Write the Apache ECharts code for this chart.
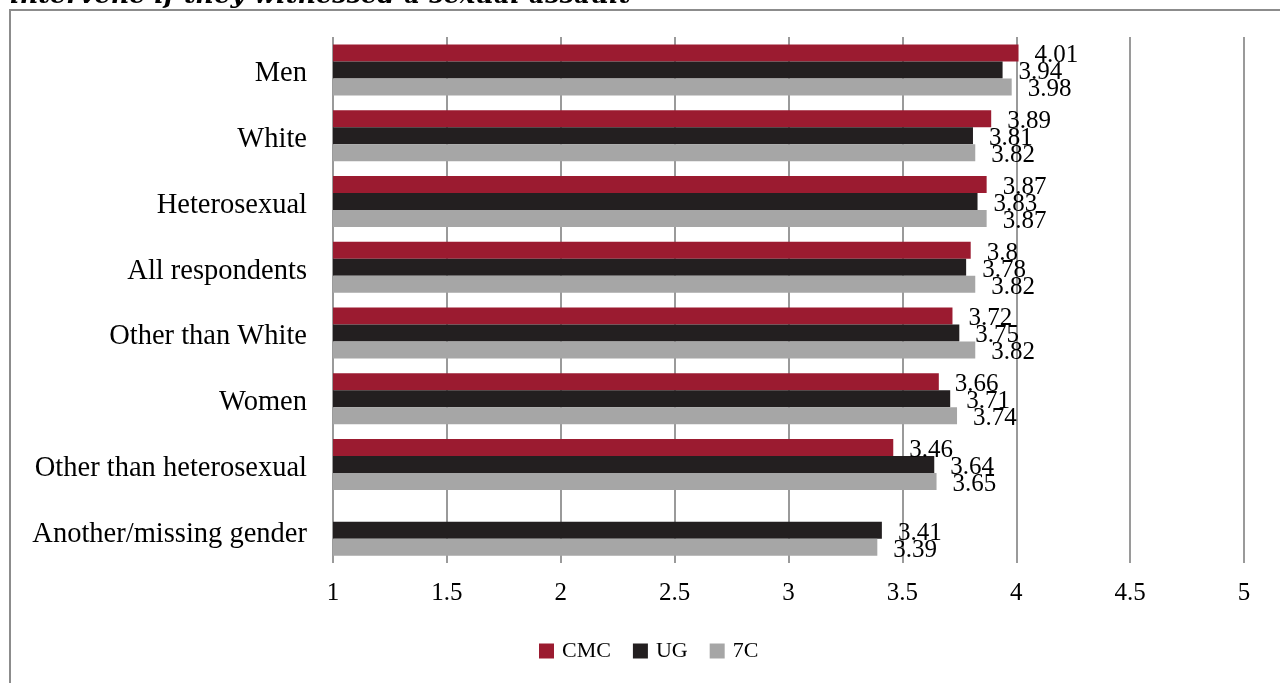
<!DOCTYPE html>
<html>
<head>
<meta charset="utf-8">
<script src="https://cdn.jsdelivr.net/npm/echarts@6/dist/echarts.min.js"></script>
<style>
  html, body { margin: 0; padding: 0; background: #fff; }
  #chart { width: 1280px; height: 683px; }
</style>
</head>
<body>
<div id="chart"></div>
<script>
// Mean likelihood of intervening, by respondent group
const categories = [
  'Men', 'White', 'Heterosexual', 'All respondents',
  'Other than White', 'Women', 'Other than heterosexual', 'Another/missing gender'
];
const cmcValues = [4.01, 3.89, 3.87, 3.8, 3.72, 3.66, 3.46, null];
const ugValues  = [3.94, 3.81, 3.83, 3.78, 3.75, 3.71, 3.64, 3.41];
const sevenCValues = [3.98, 3.82, 3.87, 3.82, 3.82, 3.74, 3.65, 3.39];
const xTicks = [1, 1.5, 2, 2.5, 3, 3.5, 4, 4.5, 5];

const FONT = 'Liberation Serif';

const chart = echarts.init(document.getElementById('chart'), null, { renderer: 'canvas' });

function barSeries(name, data, color) {
  return {
    name: name,
    type: 'bar',
    data: data,
    barWidth: 17,
    barGap: '0%',
    itemStyle: { color: color },
    label: {
      show: true,
      position: 'right',
      distance: 16,
      offset: [0, 3],
      color: '#000',
      fontFamily: FONT,
      fontSize: 25
    }
  };
}

chart.setOption({
  animation: false,
  backgroundColor: '#fff',
  textStyle: { fontFamily: FONT },
  graphic: [
    {
      type: 'rect',
      shape: { x: 10, y: 10, width: 1300, height: 700 },
      style: { fill: 'none', stroke: '#8c8c8c', lineWidth: 2 },
      silent: true
    },
    {
      type: 'text',
      x: 10,
      y: 9,
      style: {
        text: 'intervene if they witnessed a sexual assault',
        fontFamily: 'DejaVu Serif',
        fontSize: 25.5,
        fontWeight: 'bold',
        fontStyle: 'italic',
        fill: '#000',
        verticalAlign: 'bottom'
      },
      silent: true
    }
  ],
  legend: {
    bottom: 16,
    left: 534,
    itemWidth: 15,
    itemHeight: 15,
    itemGap: 22,
    icon: 'rect',
    textStyle: { fontFamily: FONT, fontSize: 22, color: '#000', padding: [3, 0, 0, 3] },
    data: ['CMC', 'UG', '7C']
  },
  grid: { left: 333, right: 36, top: 37, bottom: 120, containLabel: false },
  xAxis: {
    type: 'value',
    min: xTicks[0],
    max: xTicks[xTicks.length - 1],
    interval: 0.5,
    axisLine: { show: false },
    axisTick: { show: false },
    axisLabel: { margin: 18, fontFamily: FONT, fontSize: 25, color: '#000' },
    splitLine: { show: true, lineStyle: { color: '#9a9a9a', width: 2 } }
  },
  yAxis: {
    type: 'category',
    inverse: true,
    data: categories,
    axisLine: { show: false },
    axisTick: { show: false },
    axisLabel: {
      margin: 26,
      color: '#000',
      formatter: '{cat|{value}}',
      rich: {
        cat: { fontFamily: FONT, fontSize: 28.5, color: '#000', padding: [8, 0, 0, 0] }
      }
    }
  },
  series: [
    barSeries('CMC', cmcValues, '#9b1b30'),
    barSeries('UG', ugValues, '#231f20'),
    barSeries('7C', sevenCValues, '#a6a6a6')
  ]
});
</script>
</body>
</html>
